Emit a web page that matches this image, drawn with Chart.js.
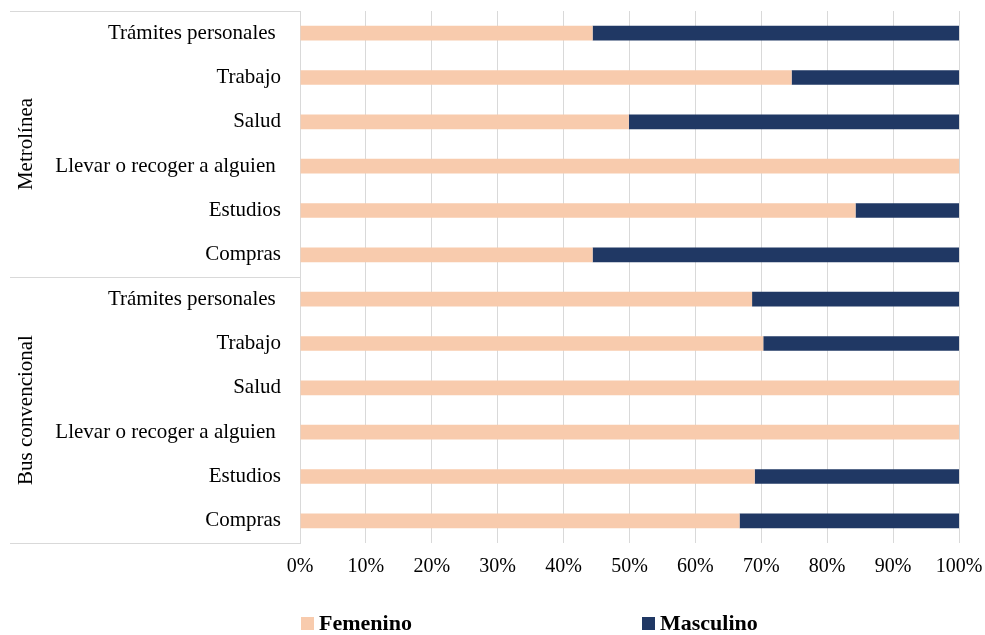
<!DOCTYPE html>
<html lang="es">
<head>
<meta charset="utf-8">
<title>Motivos de viaje por sexo</title>
<script src="https://cdn.jsdelivr.net/npm/chart.js@4.4.1/dist/chart.umd.min.js"></script>
<style>
  html, body { margin: 0; padding: 0; background: #fff; }
  #wrap { width: 985px; height: 635px; }
</style>
</head>
<body>
<div id="wrap"><canvas id="chart" width="985" height="635"></canvas></div>
<script>
// Motivos de viaje (de arriba hacia abajo), agrupados por sistema
const motivos = [
    'Trámites personales ', 'Trabajo', 'Salud', 'Llevar o recoger a alguien ', 'Estudios', 'Compras',
    'Trámites personales ', 'Trabajo', 'Salud', 'Llevar o recoger a alguien ', 'Estudios', 'Compras'
];
const sistemas = ['Metrolínea', 'Bus convencional'];
const filasPorSistema = [6, 6];

// Porcentaje de viajes por sexo
const femenino  = [44.4, 74.6, 49.9, 100, 84.3, 44.4, 68.6, 70.3, 100, 100, 69.0, 66.7];
const masculino = [55.6, 25.4, 50.1, 0, 15.7, 55.6, 31.4, 29.7, 0, 0, 31.0, 33.3];

const serif = "'Liberation Serif', 'Times New Roman', serif";
const gridColor = '#d9d9d9';

// the scales should not push the plot area in; layout padding alone places it
function fixScale(scale, size) {
    if (scale.isHorizontal()) scale.height = size; else scale.width = size;
    scale.paddingTop = scale.paddingBottom = scale.paddingLeft = scale.paddingRight = 0;
}

// Marco izquierdo con las etiquetas de cada sistema
const groupFrame = {
    id: 'groupFrame',
    afterDraw(chart, args, opts) {
        const { ctx, chartArea, scales: { y } } = chart;
        const edges = [chartArea.top];
        let count = 0;
        filasPorSistema.forEach(n => {
            count += n;
            if (count >= motivos.length) {
                edges.push(chartArea.bottom);
            } else {
                edges.push((y.getPixelForValue(count - 1) + y.getPixelForValue(count)) / 2);
            }
        });

        ctx.save();
        ctx.strokeStyle = gridColor;
        ctx.lineWidth = 1;
        edges.forEach(e => {
            const py = Math.round(e) + 0.5;
            ctx.beginPath();
            ctx.moveTo(opts.left, py);
            ctx.lineTo(chartArea.left, py);
            ctx.stroke();
        });

        ctx.fillStyle = '#000';
        ctx.font = '21px ' + serif;
        ctx.textAlign = 'center';
        ctx.textBaseline = 'alphabetic';
        sistemas.forEach((name, i) => {
            const mid = (edges[i] + edges[i + 1]) / 2;
            ctx.save();
            ctx.translate(opts.baseline, mid);
            ctx.rotate(-Math.PI / 2);
            ctx.fillText(name, 0, 0);
            ctx.restore();
        });
        ctx.restore();
    }
};

// Leyenda inferior con posiciones fijas
const bottomLegend = {
    id: 'bottomLegend',
    afterDraw(chart, args, opts) {
        const { ctx } = chart;
        ctx.save();
        ctx.font = 'bold 22px ' + serif;
        ctx.textBaseline = 'middle';
        ctx.textAlign = 'left';
        chart.data.datasets.forEach((ds, i) => {
            const x = opts.x[i];
            ctx.fillStyle = ds.backgroundColor;
            ctx.fillRect(x, opts.y, opts.box, opts.box);
            ctx.fillStyle = '#000';
            ctx.fillText(ds.label, x + opts.box + 5, opts.y + opts.box / 2 + 1);
        });
        ctx.restore();
    }
};

new Chart(document.getElementById('chart'), {
    type: 'bar',
    data: {
        labels: motivos,
        datasets: [
            { label: 'Femenino', data: femenino, backgroundColor: '#f8cbad' },
            { label: 'Masculino', data: masculino, backgroundColor: '#203864' }
        ]
    },
    options: {
        indexAxis: 'y',
        responsive: false,
        animation: false,
        layout: { padding: { top: 11, right: 26, left: 0, bottom: 0 } },
        datasets: { bar: { categoryPercentage: 1, barPercentage: 0.33, borderWidth: 0 } },
        plugins: {
            legend: { display: false },
            tooltip: { enabled: false },
            groupFrame: { left: 10, baseline: 32 },
            bottomLegend: { x: [301, 642], y: 617, box: 13 }
        },
        scales: {
            x: {
                stacked: true,
                min: 0,
                max: 100,
                ticks: {
                    stepSize: 10,
                    callback: v => v + '%',
                    color: '#000',
                    font: { family: serif, size: 20 },
                    padding: 12,
                    maxRotation: 0
                },
                grid: { color: gridColor, drawTicks: false },
                border: { display: false },
                afterFit(scale) { fixScale(scale, 92); }
            },
            y: {
                stacked: true,
                ticks: {
                    color: '#000',
                    font: { family: serif, size: 21 },
                    padding: 19,
                    autoSkip: false
                },
                grid: { display: false, drawTicks: false },
                border: { display: true, color: gridColor },
                afterFit(scale) { fixScale(scale, 300); }
            }
        }
    },
    plugins: [groupFrame, bottomLegend]
});
</script>
</body>
</html>
